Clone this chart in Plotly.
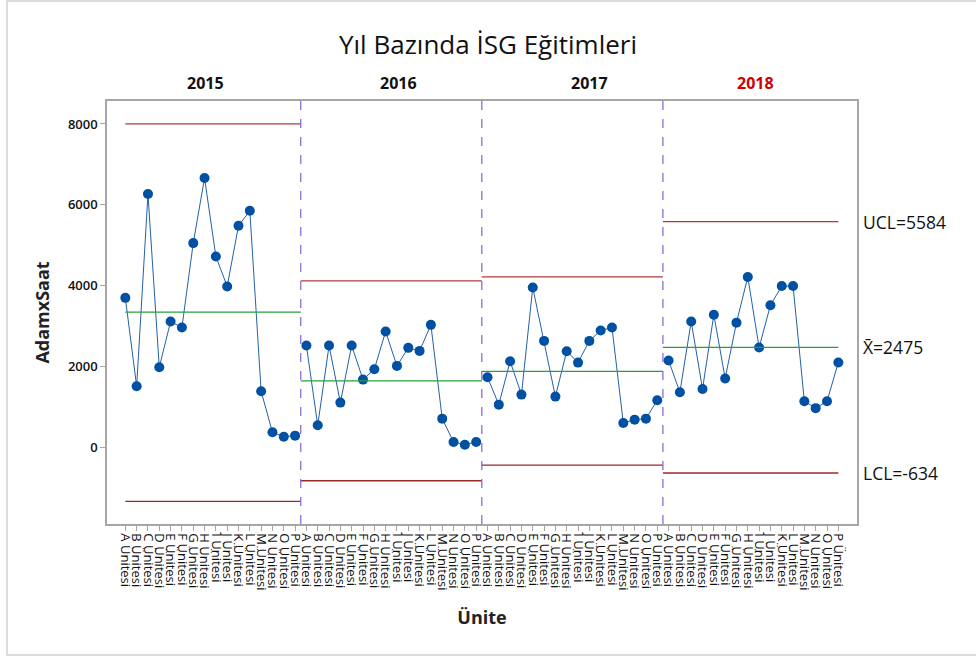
import plotly.graph_objects as go

# ---- data ----
years = ["2015", "2016", "2017", "2018"]
units = ["A Ünitesi", "B Ünitesi", "C Ünitesi", "D Ünitesi", "E Ünitesi", "F Ünitesi",
         "G Ünitesi", "H Ünitesi", "I Ünitesi", "J Ünitesi", "K Ünitesi", "L Ünitesi",
         "M Ünitesi", "N Ünitesi", "O Ünitesi", "P Ünitesi"]
values_2015 = [3698, 1511, 6267, 1982, 3113, 2964, 5053, 6663, 4723, 3980, 5482, 5853, 1387, 372, 264, 290]
values_2016 = [2518, 545, 2518, 1107, 2518, 1676, 1932, 2865, 2015, 2461, 2386, 3030, 710, 132, 66, 132]
values_2017 = [1734, 1057, 2130, 1305, 3955, 2634, 1255, 2378, 2097, 2634, 2890, 2964, 603, 685, 710, 1164]
values_2018 = [2150, 1365, 3115, 1445, 3280, 1705, 3085, 4215, 2470, 3515, 3990, 3990, 1140, 970, 1140, 2100]
ucl = [8000, 4118, 4217, 5584]
mean = [3345, 1646, 1879, 2475]
lcl = [-1335, -826, -438, -634]
y_ticks = [0, 2000, 4000, 6000, 8000]

stage_values = [values_2015, values_2016, values_2017, values_2018]
n = len(units)
ns = len(years)

FONT = "Segoe UI, Open Sans, sans-serif"
fig = go.Figure()

# data points per stage
for s, vals in enumerate(stage_values):
    xs = [s * n + i for i in range(n)]
    fig.add_trace(go.Scatter(
        x=xs, y=vals, mode="lines+markers",
        line=dict(color="#2560AA", width=1),
        marker=dict(color="#0050A4", size=10),
        showlegend=False, hoverinfo="y"))

# control limits
def seg_trace(levels, color, width):
    xs, ys = [], []
    for s, v in enumerate(levels):
        x0 = s * n - 0.5 if s > 0 else 0
        x1 = s * n + n - 0.5 if s < ns - 1 else s * n + n - 1
        xs += [x0, x1, None]
        ys += [v, v, None]
    return go.Scatter(x=xs, y=ys, mode="lines", line=dict(color=color, width=width),
                      showlegend=False, hoverinfo="skip")

fig.add_trace(seg_trace(ucl, "#B03A3A", 1.3))
fig.add_trace(seg_trace(lcl, "#9A2A2A", 1.3))
fig.add_trace(seg_trace(mean, "#23A23A", 1.3))

# stage dividers
shapes = []
for s in range(1, ns):
    xd = s * n - 0.5
    shapes.append(dict(type="line", xref="x", yref="paper", x0=xd, x1=xd, y0=0, y1=1,
                       line=dict(color="#8460D8", width=1.2, dash="dash")))
# outer border
shapes.append(dict(type="rect", xref="paper", yref="paper", x0=-0.1333, x1=1.2,
                   y0=-0.3095, y1=1.2367, line=dict(color="#D0D0D0", width=1.5),
                   layer="below"))

annotations = []
stage_label_x = [7.07, 24.12, 41.0, 55.67]
for s, yr in enumerate(years):
    annotations.append(dict(x=stage_label_x[s], xref="x", y=1.0, yref="paper",
                            yanchor="bottom", yshift=5, text="<b>%s</b>" % yr, showarrow=False,
                            font=dict(family=FONT, size=16,
                                      color="#D00000" if s == ns - 1 else "#111111")))

last = ns - 1
for txt, v in [("UCL=%d" % ucl[last], ucl[last]),
               ("X̄=%d" % mean[last], mean[last]),
               ("LCL=%d" % lcl[last], lcl[last])]:
    annotations.append(dict(x=1.0, xref="paper", y=v, yref="y", xanchor="left", xshift=4,
                            text=txt, showarrow=False,
                            font=dict(family=FONT, size=17.5, color="#111111")))

ticktext = units * ns
tickvals = list(range(n * ns))

fig.update_layout(
    width=976, height=657,
    margin=dict(l=107, r=119, t=101, b=133),
    paper_bgcolor="white", plot_bgcolor="white",
    title=dict(text="Yıl Bazında İSG Eğitimleri", x=0.5, xref="container", xanchor="center",
               y=1 - 45 / 657, yref="container", yanchor="middle",
               font=dict(family=FONT, size=26, color="#111111")),
    xaxis=dict(range=[-1.62, 64.65], tickvals=tickvals, ticktext=ticktext, tickangle=90,
               showgrid=False, zeroline=False, showline=True, mirror=True,
               linecolor="#A6A6A6", linewidth=1.5, ticks="outside", ticklen=5,
               tickcolor="#A6A6A6", tickfont=dict(family=FONT, size=13, color="#111111"),
               title=dict(text="<b>Ünite</b>", standoff=22,
                          font=dict(family=FONT, size=18, color="#222222"))),
    yaxis=dict(range=[-1896, 8568], tickvals=y_ticks, showgrid=False, zeroline=False,
               showline=True, mirror=True, linecolor="#A6A6A6", linewidth=1.5,
               ticks="outside", ticklen=5, tickcolor="#A6A6A6",
               tickfont=dict(family=FONT, size=13, color="#111111", weight=600),
               title=dict(text="<b>AdamxSaat</b>", standoff=14,
                          font=dict(family=FONT, size=18, color="#222222"))),
    shapes=shapes, annotations=annotations,
)

fig.write_html("out.html", config={"displayModeBar": False},
               post_script="document.body.style.margin='0';")
